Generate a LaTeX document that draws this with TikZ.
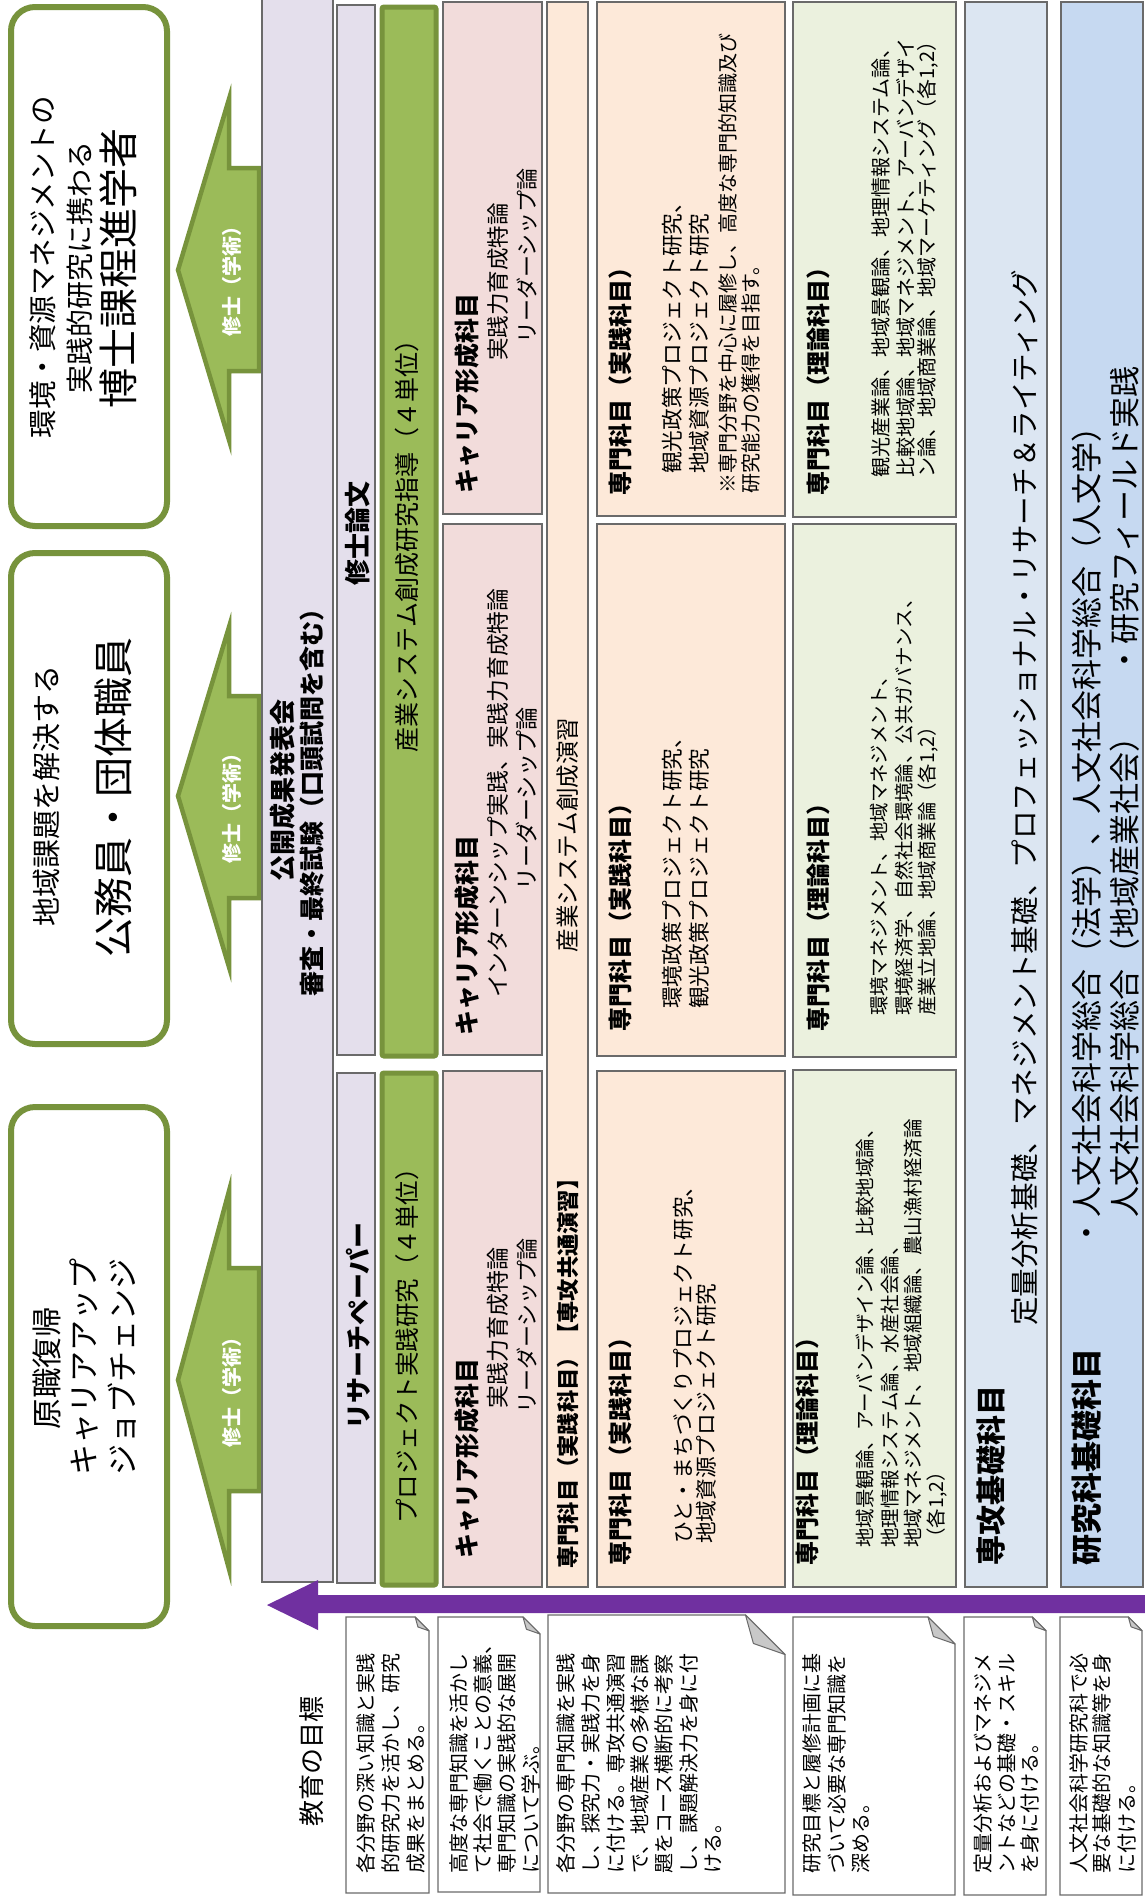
\documentclass[tikz,border=0pt]{standalone}
\usepackage{fontspec}
\setmainfont{Noto Sans CJK JP}
\usetikzlibrary{fit}
\newcommand\myfs[1]{\fontsize{#1}{#1}\selectfont}
\definecolor{olive}{HTML}{77933C}
\definecolor{oliveL}{HTML}{9BBB59}
\definecolor{lav}{HTML}{E4DFEC}
\definecolor{pinkc}{HTML}{F2DCDB}
\definecolor{peach}{HTML}{FDE9D9}
\definecolor{lgreen}{HTML}{EBF1DE}
\definecolor{lblue}{HTML}{DCE6F2}
\definecolor{mblue}{HTML}{C6D9F1}
\definecolor{purp}{HTML}{7030A0}
\definecolor{bord}{HTML}{6A6A6A}
\definecolor{foldc}{HTML}{C8C8C8}
\newcommand\bx[6]{\node[#2, fit={(#3,#4) (#5,#6)}, inner sep=0pt] (#1) {};}
\newcommand\notebox[5]{%
  \pgfmathsetmacro\ff{0.1667*(#4-#2)}%
  \draw[notebd] (#2,#3) -- ({#4-\ff},#3) -- (#4,{#3+\ff}) -- (#4,#5) -- (#2,#5) -- cycle;
  \draw[foldst] ({#4-\ff},#3) -- ({#4-0.8*\ff},{#3+0.72*\ff}) -- (#4,{#3+\ff}) -- cycle;
  \coordinate (#1) at ({(#2+#4)/2},{(#3+#5)/2});
}
\begin{document}
\begin{tikzpicture}[x=1pt,y=-1pt,
  tl/.style={rotate=90, anchor=west, inner sep=0pt},
  tc/.style={rotate=90, anchor=center, inner sep=0pt},
  outbox/.style={draw=olive, line width=6pt, rounded corners=24pt, fill=white},
  colbox/.style={draw=bord, line width=1.2pt},
  greenbox/.style={draw=olive, line width=5pt, fill=oliveL, rounded corners=2pt},
  garrow/.style={draw=olive, line width=4.5pt, fill=oliveL, line join=miter},
  notebd/.style={draw=bord, line width=1.2pt, fill=white},
  foldst/.style={draw=bord, line width=1pt, fill=foldc, line join=round},
  hd/.style={font=\bfseries\myfs{25}},
]
\useasboundingbox (0,0) rectangle (1145,1899);
\fill[white] (0,0) rectangle (1145,1899);

% ---------- outcome boxes ----------
\bx{out1}{outbox}{11}{7}{167}{526}
\bx{out2}{outbox}{11}{553}{167}{1044}
\bx{out3}{outbox}{11}{1107}{167}{1626}
\node[tc, font=\myfs{28.5}] (o1a) at (43,267) {環境・資源マネジメントの};
\node[tc, font=\myfs{28}] (o1b) at (80,267) {実践的研究に携わる};
\node[tc, font=\myfs{40}] (o1c) at (118,268) {博士課程進学者};
\node[tc, font=\myfs{29}] (o2a) at (47,796) {地域課題を解決する};
\node[tc, font=\myfs{40}] (o2b) at (113,797) {公務員・団体職員};
\node[tc, font=\myfs{30.5}] (o3a) at (47,1368) {原職復帰};
\node[tc, font=\myfs{31}] (o3b) at (84,1367) {キャリアアップ};
\node[tc, font=\myfs{31}] (o3c) at (122,1367) {ジョブチェンジ};

% ---------- green arrows ----------
\draw[garrow] (178,270) -- (229,99) -- (229,168) -- (259,168) -- (259,371) -- (229,371) -- (229,440) -- cycle;
\draw[garrow] (178,796) -- (229,627) -- (229,696) -- (259,696) -- (259,898) -- (229,898) -- (229,967) -- cycle;
\draw[garrow] (178,1380) -- (229,1191) -- (229,1268) -- (259,1268) -- (259,1491) -- (229,1491) -- (229,1569) -- cycle;
\node[tc, font=\bfseries\myfs{20}, text=white] (m1) at (232,276) {修士（学術）};
\node[tc, font=\bfseries\myfs{20}, text=white] (m2) at (232,803) {修士（学術）};
\node[tc, font=\bfseries\myfs{20}, text=white] (m3) at (232,1387) {修士（学術）};

% ---------- lavender column ----------
\bx{lavbig}{colbox, fill=lav}{262}{-3}{333}{1582}
\node[tc, font=\bfseries\myfs{26}] (kokai) at (283,790) {公開成果発表会};
\node[tc, font=\bfseries\myfs{25}] (shinsa) at (312,796) {審査・最終試験（口頭試問を含む）};

\bx{shuron}{colbox, fill=lav}{337}{5}{375}{1055}
\bx{rpaper}{colbox, fill=lav}{337}{1073}{375}{1583}
\node[tc, font=\bfseries\myfs{26}] (shuronT) at (358,533) {修士論文};
\node[tc, font=\bfseries\myfs{26}] (rpaperT) at (358,1326) {リサーチペーパー};

\bx{green1}{greenbox}{382}{7}{436}{1056}
\bx{green2}{greenbox}{382}{1073}{436}{1585}
\node[tc, font=\myfs{25}] (g1T) at (407,540) {産業システム創成研究指導（４単位）};
\node[tc, font=\myfs{24.5}] (g2T) at (407,1340) {プロジェクト実践研究（４単位）};

% ---------- pink (career) ----------
\bx{pink1}{colbox, fill=pinkc}{443}{2}{542}{514}
\bx{pink2}{colbox, fill=pinkc}{443}{524}{542}{1055}
\bx{pink3}{colbox, fill=pinkc}{443}{1071}{542}{1587}
\node[tl, hd] (p1h) at (467,494) {キャリア形成科目};
\node[tl, font=\myfs{22.5}] (p1a) at (498,361) {実践力育成特論};
\node[tl, font=\myfs{22}] (p1b) at (527,344) {リーダーシップ論};
\node[tl, hd] (p2h) at (467,1036) {キャリア形成科目};
\node[tl, font=\myfs{22.8}] (p2a) at (498,998) {インターンシップ実践、実践力育成特論};
\node[tl, font=\myfs{23}] (p2b) at (527,891) {リーダーシップ論};
\node[tl, hd] (p3h) at (467,1559) {キャリア形成科目};
\node[tl, font=\myfs{23}] (p3a) at (498,1409) {実践力育成特論};
\node[tl, font=\myfs{22}] (p3b) at (527,1414) {リーダーシップ論};

% ---------- peach (common) ----------
\bx{peach1}{colbox, fill=peach}{547}{2}{588}{1587}
\node[tc, font=\myfs{23.5}] (pe1a) at (568,835) {産業システム創成演習};
\node[tl, font=\bfseries\myfs{22.3}] (pe1h) at (568,1569) {専門科目（実践科目）【専攻共通演習】};

% ---------- peach (practice) ----------
\bx{prac1}{colbox, fill=peach}{597}{2}{785}{516}
\bx{prac2}{colbox, fill=peach}{597}{524}{785}{1056}
\bx{prac3}{colbox, fill=peach}{597}{1071}{785}{1587}
\node[tl, font=\bfseries\myfs{24}] (r1h) at (620,496) {専門科目（実践科目）};
\node[tl, font=\myfs{21.7}] (r1a) at (672,474) {観光政策プロジェクト研究、};
\node[tl, font=\myfs{21.7}] (r1b) at (699,474) {地域資源プロジェクト研究};
\node[tl, font=\myfs{20}] (r1c) at (728,494) {※専門分野を中心に履修し、高度な専門的知識及び};
\node[tl, font=\myfs{20}] (r1d) at (751,494) {研究能力の獲得を目指す。};
\node[tl, font=\bfseries\myfs{24}] (r2h) at (620,1032) {専門科目（実践科目）};
\node[tl, font=\myfs{21.7}] (r2a) at (672,1009) {環境政策プロジェクト研究、};
\node[tl, font=\myfs{21.7}] (r2b) at (699,1009) {観光政策プロジェクト研究};
\node[tl, font=\bfseries\myfs{24}] (r3h) at (620,1566) {専門科目（実践科目）};
\node[tl, font=\myfs{21.7}] (r3a) at (683,1544) {ひと・まちづくりプロジェクト研究、};
\node[tl, font=\myfs{21.7}] (r3b) at (706,1544) {地域資源プロジェクト研究};

% ---------- light green (theory) ----------
\bx{theo1}{colbox, fill=lgreen}{793}{2}{956}{517}
\bx{theo2}{colbox, fill=lgreen}{793}{524}{956}{1057}
\bx{theo3}{colbox, fill=lgreen}{793}{1070}{956}{1587}
\node[tl, font=\bfseries\myfs{24}] (t1h) at (818,496) {専門科目（理論科目）};
\node[tl, font=\myfs{20}] (t1a) at (881,478) {観光産業論、地域景観論、地理情報システム論、};
\node[tl, font=\myfs{20}] (t1b) at (906,478) {比較地域論、地域マネジメント、アーバンデザイ};
\node[tl, font=\myfs{20}] (t1c) at (928,478) {ン論、地域商業論、地域マーケティング（各1,2）};
\node[tl, font=\bfseries\myfs{24}] (t2h) at (818,1032) {専門科目（理論科目）};
\node[tl, font=\myfs{19.4}] (t2a) at (879,1016) {環境マネジメント、地域マネジメント、};
\node[tl, font=\myfs{19.4}] (t2b) at (904,1016) {環境経済学、自然社会環境論、公共ガバナンス、};
\node[tl, font=\myfs{19.4}] (t2c) at (928,1016) {産業立地論、地域商業論（各1,2）};
\node[tl, font=\bfseries\myfs{24}] (t3h) at (807,1566) {専門科目（理論科目）};
\node[tl, font=\myfs{19.5}] (t3a) at (865,1548) {地域景観論、アーバンデザイン論、比較地域論、};
\node[tl, font=\myfs{19.5}] (t3b) at (890,1548) {地理情報システム論、水産社会論、};
\node[tl, font=\myfs{19.5}] (t3c) at (913,1548) {地域マネジメント、地域組織論、農山漁村経済論};
\node[tl, font=\myfs{19.5}] (t3d) at (937,1548) {（各1,2）};

% ---------- foundation ----------
\bx{senko}{colbox, fill=lblue}{965}{2}{1047}{1587}
\node[tl, font=\bfseries\myfs{30}] (senkoH) at (991,1566) {専攻基礎科目};
\node[tl, font=\myfs{28.6}] (senkoT) at (1025,1326) {定量分析基礎、マネジメント基礎、プロフェッショナル・リサーチ＆ライティング};
\bx{kenkyu}{colbox, fill=mblue}{1061}{2}{1143}{1587}
\node[tl, font=\bfseries\myfs{31}] (kenkyuH) at (1087,1566) {研究科基礎科目};
\node[tl, font=\myfs{31}] (kenkyuA) at (1087,1249) {・人文社会科学総合（法学）、人文社会科学総合（人文学）};
\node[tl, font=\myfs{31}] (kenkyuB) at (1125,1218) {人文社会科学総合（地域産業社会）};
\node[tl, font=\myfs{31}] (kenkyuC) at (1125,676) {・研究フィールド実践};

% ---------- purple arrow ----------
\fill[purp] (267,1605) -- (318,1580) -- (318,1595) -- (1145,1595) -- (1145,1613) -- (318,1613) -- (318,1630) -- cycle;

% ---------- goals ----------
\node[tc, font=\myfs{26}] (goal) at (312,1761) {教育の目標};
\notebox{n1}{346}{1617}{429}{1893}
\notebox{n2}{438}{1617}{540}{1892}
\notebox{n3}{548}{1615}{785}{1893}
\notebox{n4}{793}{1617}{955}{1895}
\notebox{n5}{964}{1617}{1046}{1895}
\notebox{n6}{1060}{1617}{1142}{1895}
\begin{scope}[every node/.style={tl, font=\myfs{20}}]
\node (n1a) at (366,1874) {各分野の深い知識と実践};
\node (n1b) at (391,1874) {的研究力を活かし、研究};
\node (n1c) at (416,1874) {成果をまとめる。};
\node (n2a) at (459,1874) {高度な専門知識を活かし};
\node (n2b) at (483,1874) {て社会で働くことの意義、};
\node (n2c) at (507,1874) {専門知識の実践的な展開};
\node (n2d) at (531,1874) {について学ぶ。};
\node (n3a) at (566,1874) {各分野の専門知識を実践};
\node (n3b) at (591,1874) {し、探究力・実践力を身};
\node (n3c) at (616,1874) {に付ける。専攻共通演習};
\node (n3d) at (640,1874) {で、地域産業の多様な課};
\node (n3e) at (664,1874) {題をコース横断的に考察};
\node (n3f) at (689,1874) {し、課題解決力を身に付};
\node (n3g) at (713,1874) {ける。};
\node (n4a) at (812,1874) {研究目標と履修計画に基};
\node (n4b) at (837,1874) {づいて必要な専門知識を};
\node (n4c) at (861,1874) {深める。};
\node (n5a) at (983,1874) {定量分析およびマネジメ};
\node (n5b) at (1007,1874) {ントなどの基礎・スキル};
\node (n5c) at (1030,1874) {を身に付ける。};
\node (n6a) at (1079,1874) {人文社会科学研究科で必};
\node (n6b) at (1102,1874) {要な基礎的な知識等を身};
\node (n6c) at (1127,1874) {に付ける。};
\end{scope}
\end{tikzpicture}
\end{document}
